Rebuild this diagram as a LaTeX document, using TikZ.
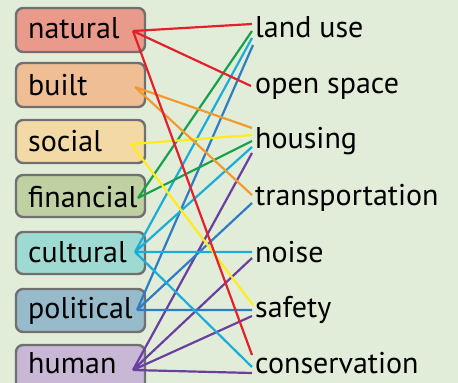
\documentclass[tikz,border=0pt]{standalone}
\usepackage{fontspec}
\setmainfont{PT Sans}
\definecolor{bg}{HTML}{E2EDD9}
\definecolor{bord}{HTML}{707070}
\definecolor{fnat}{HTML}{EA9A8A}
\definecolor{fbui}{HTML}{EFBE95}
\definecolor{fsoc}{HTML}{F3D9A5}
\definecolor{ffin}{HTML}{BFD1A3}
\definecolor{fcul}{HTML}{9FDAD2}
\definecolor{fpol}{HTML}{97BBCB}
\definecolor{fhum}{HTML}{C8B8D6}
\definecolor{cred}{HTML}{E3202B}
\definecolor{corange}{HTML}{F39A2E}
\definecolor{cyellow}{HTML}{FFEC1A}
\definecolor{cgreen}{HTML}{18A04A}
\definecolor{ccyan}{HTML}{1BACD8}
\definecolor{cblue}{HTML}{2F7CC4}
\definecolor{cpurple}{HTML}{6A3FA0}
\begin{document}
\begin{tikzpicture}[x=1pt,y=-1pt,
  capbox/.style={draw=bord,line width=2.4pt,rounded corners=7pt},
  lab/.style={anchor=base west,inner sep=0pt,font=\fontsize{30}{36}\selectfont},
  link/.style={line width=2.2pt}]
\useasboundingbox (0,0) rectangle (458,383);
\clip (0,0) rectangle (458,383);
\fill[bg] (0,0) rectangle (458,383);
% boxes
\draw[capbox,fill=fnat] (16,8) rectangle (145,52);
\draw[capbox,fill=fbui] (16,63) rectangle (145,107);
\draw[capbox,fill=fsoc] (16,120) rectangle (145,163);
\draw[capbox,fill=ffin] (16,175) rectangle (145,217);
\draw[capbox,fill=fcul] (16,232) rectangle (145,274);
\draw[capbox,fill=fpol] (16,289) rectangle (145,332);
\draw[capbox,fill=fhum] (16,345) rectangle (145,392);
% left labels
\node[lab] (tnat) at (28,38) {natural};
\node[lab] (tbui) at (28,95) {built};
\node[lab] (tsoc) at (28,151) {social};
\node[lab] (tfin) at (28,207) {financial};
\node[lab] (tcul) at (28,262) {cultural};
\node[lab] (tpol) at (28,318) {political};
\node[lab] (thum) at (28,373) {human};
% right labels
\node[lab] (rlu) at (255,37) {land use};
\node[lab] (ros) at (255,93) {open space};
\node[lab] (rho) at (255,148) {housing};
\node[lab] (rtr) at (255,205) {transportation};
\node[lab] (rno) at (255,262) {noise};
\node[lab] (rsa) at (255,317) {safety};
\node[lab] (rco) at (255,373) {conservation};
% left anchors
\coordinate (nat) at (133,31);
\coordinate (bui) at (135,87);
\coordinate (soc) at (131,144);
\coordinate (fin) at (138,198);
\coordinate (cul) at (135,252);
\coordinate (pol) at (137,310);
\coordinate (hum) at (133,370);
% right anchors
\coordinate (lu1) at (252,24);
\coordinate (lu2) at (252,31);
\coordinate (lu3) at (252,38);
\coordinate (lu4) at (253,45);
\coordinate (os) at (251,86);
\coordinate (h1) at (252,128);
\coordinate (h2) at (252,135);
\coordinate (h3) at (252,141);
\coordinate (h4) at (252,147);
\coordinate (h5) at (252,153);
\coordinate (t1) at (252,195);
\coordinate (t2) at (252,203);
\coordinate (n1) at (252,252);
\coordinate (n2) at (252,258);
\coordinate (s1) at (253,305);
\coordinate (s2) at (252,310);
\coordinate (s3) at (252,316);
\coordinate (c1) at (252,355);
\coordinate (c2) at (252,367);
\coordinate (c3) at (252,373);
% links
\draw[link,cpurple] (hum) -- (h5) (hum) -- (n2) (hum) -- (s3) (hum) -- (c3);
\draw[link,cblue] (pol) -- (lu4) (pol) -- (t2) (pol) -- (s2);
\draw[link,ccyan] (cul) -- (lu3) (cul) -- (h4) (cul) -- (n1) (cul) -- (c2);
\draw[link,cgreen] (fin) -- (lu2) (fin) -- (h3);
\draw[link,cyellow] (soc) -- (h2) (soc) -- (s1);
\draw[link,corange] (bui) -- (h1) (bui) -- (t1);
\draw[link,cred] (nat) -- (lu1) (nat) -- (os) (nat) -- (c1);
\end{tikzpicture}
\end{document}
